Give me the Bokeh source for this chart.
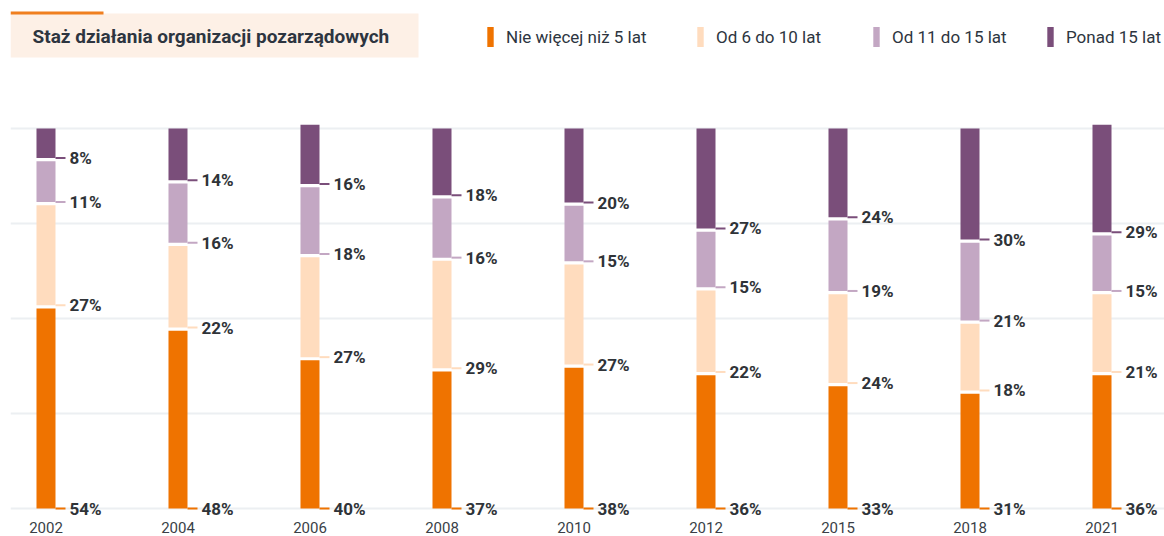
from bokeh.plotting import figure
from bokeh.models import Range1d, FixedTicker, ColumnDataSource, Legend, LegendItem, BoxAnnotation, Label
from bokeh.core.properties import value
from bokeh.embed import file_html
from bokeh.resources import INLINE

years = ["2002", "2004", "2006", "2008", "2010", "2012", "2015", "2018", "2021"]
series_names = ["Nie więcej niż 5 lat", "Od 6 do 10 lat", "Od 11 do 15 lat", "Ponad 15 lat"]
upto5 = [54, 48, 40, 37, 38, 36, 33, 31, 36]
from6to10 = [27, 22, 27, 29, 27, 22, 24, 18, 21]
from11to15 = [11, 16, 18, 16, 15, 15, 19, 21, 15]
over15 = [8, 14, 16, 18, 20, 27, 24, 30, 29]
title_text = "Staż działania organizacji pozarządowych"

colors = ["#EF7300", "#FFDCBE", "#C3A7C3", "#7A4E7A"]
series = [upto5, from6to10, from11to15, over15]

FONT = "Roboto"
GAP = 0.85          # visual gap between stacked segments (in % units)
SHRINK = 1 - 3 * GAP / 100
BAR_W = 0.144
YEAR_LABEL_Y = -5.0

p = figure(width=1164, height=536, output_backend="svg", toolbar_location=None,
           x_range=Range1d(-0.2689, 8.4735), y_range=Range1d(-7.368, 133.68),
           x_axis_location=None, y_axis_location=None,
           min_border_left=10, min_border_right=0, min_border_top=0, min_border_bottom=0)
p.outline_line_color = None
p.background_fill_color = "white"
p.border_fill_color = "white"

p.xgrid.visible = False
p.ygrid.ticker = FixedTicker(ticks=[0, 25, 50, 75, 100])
p.ygrid.grid_line_color = "#eceff2"
p.ygrid.grid_line_width = 2

idx = list(range(len(years)))

# year labels under the bars
p.text(x=idx, y=[YEAR_LABEL_Y] * len(idx), text=years,
       text_font=value(FONT), text_font_size="15px", text_color="#3a3f47",
       text_align="center", text_baseline="middle")

cum = [0] * len(years)
renderers = []
for k, (vals, col) in enumerate(zip(series, colors)):
    bottoms = [c * SHRINK + k * GAP for c in cum]
    tops = [(c + v) * SHRINK + k * GAP for c, v in zip(cum, vals)]
    src = ColumnDataSource(dict(
        x=idx, bottom=bottoms, top=tops,
        xr=[i + BAR_W / 2 for i in idx],
        label=[f"{v}%" for v in vals],
    ))
    r = p.vbar(x="x", bottom="bottom", top="top", width=BAR_W, source=src,
               fill_color=col, line_color=None)
    renderers.append(r)
    p.ray(x="xr", y="bottom", length=10, length_units="screen", angle=0,
          line_width=2, line_color=col, source=src)
    p.text(x="xr", y="bottom", text="label", source=src, x_offset=14,
           text_font=value(FONT), text_font_style="bold", text_font_size="17px",
           text_color="#2f3338", text_baseline="alphabetic", text_align="left")
    cum = [c + v for c, v in zip(cum, vals)]

# title box
p.add_layout(BoxAnnotation(left=0, right=408, top=523, bottom=479,
                           left_units="screen", right_units="screen",
                           top_units="screen", bottom_units="screen",
                           fill_color="#FDF0E6", fill_alpha=1, line_color=None))
p.add_layout(BoxAnnotation(left=0, right=93, top=525, bottom=522,
                           left_units="screen", right_units="screen",
                           top_units="screen", bottom_units="screen",
                           fill_color="#F07F1F", fill_alpha=1, line_color=None))
p.add_layout(Label(x=22, y=500, x_units="screen", y_units="screen", text=title_text,
                   text_font=FONT, text_font_style="bold", text_font_size="19px",
                   text_color="#2d3540", text_baseline="middle"))

# legend, one per item
legend_x = [476, 686, 862, 1036]
for r, name, lx in zip(renderers, series_names, legend_x):
    lg = Legend(items=[LegendItem(label=name, renderers=[r])], location=(lx, 487),
                orientation="horizontal", border_line_color=None, background_fill_alpha=0,
                padding=0, margin=0, glyph_width=8, glyph_height=25, label_standoff=12,
                label_text_font=FONT, label_text_font_size="17px", label_text_color="#2d3540",
                label_height=25)
    p.add_layout(lg, "center")

open("out.html", "w").write(file_html(p, INLINE))
